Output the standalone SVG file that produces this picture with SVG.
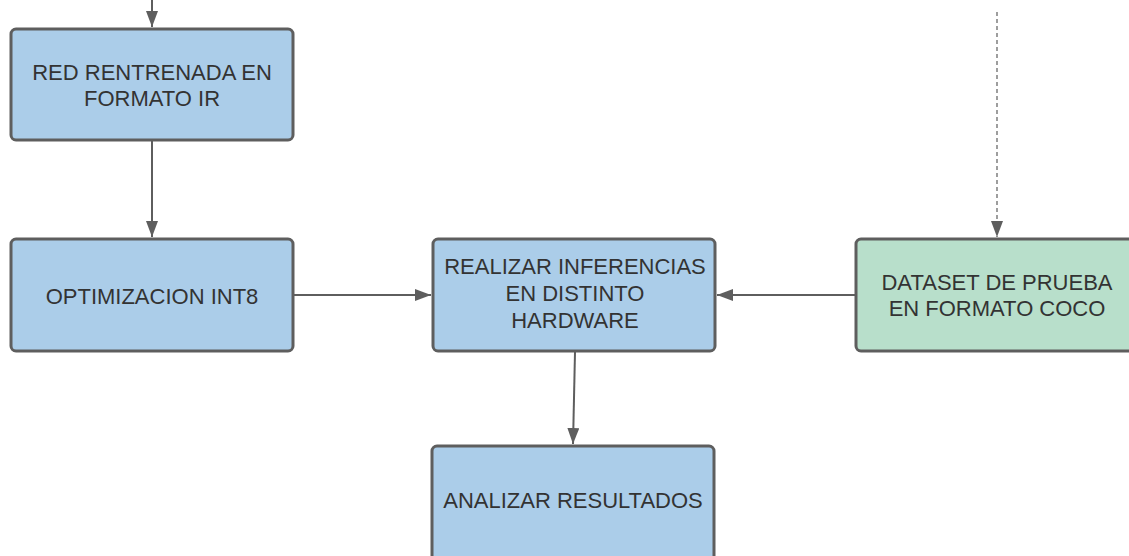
<svg xmlns="http://www.w3.org/2000/svg" width="1129" height="556" viewBox="0 0 1129 556">
<defs>
<style>
.box{stroke:#5e5e5e;stroke-width:3}
.blue{fill:#abcde9}
.green{fill:#b8dfcb}
.lbl{font-family:"Liberation Sans",Arial,sans-serif;font-size:22px;fill:#333333;text-anchor:middle}
.con{stroke:#5e5e5e;stroke-width:2;fill:none}
.dash{stroke-dasharray:4 3;stroke-width:1.2}
</style>
<marker id="ah" viewBox="0 0 16 12" refX="16" refY="6" markerWidth="16" markerHeight="12" markerUnits="userSpaceOnUse" orient="auto">
<path d="M0,0 L16,6 L0,12 Z" fill="#5e5e5e"/>
</marker>
</defs>
<rect width="1129" height="556" fill="#ffffff"/>
<g id="connectors">
<path class="con" d="M152,0 L152,27" marker-end="url(#ah)"/>
<path class="con" d="M152,141 L152,237" marker-end="url(#ah)"/>
<path class="con" d="M294,295 L431,295" marker-end="url(#ah)"/>
<path class="con" d="M855,295 L717,295" marker-end="url(#ah)"/>
<path class="con" d="M575,352 L573,444" marker-end="url(#ah)"/>
<path class="con dash" d="M997,12 L997,237" marker-end="url(#ah)"/>
</g>
<g id="n1">
<rect class="box blue" x="11" y="29" width="282" height="111" rx="5"/>
<text class="lbl" x="152" y="80">RED RENTRENADA EN</text>
<text class="lbl" x="152" y="106">FORMATO IR</text>
</g>
<g id="n2">
<rect class="box blue" x="11" y="239" width="282" height="112" rx="5"/>
<text class="lbl" x="152" y="304">OPTIMIZACION INT8</text>
</g>
<g id="n3">
<rect class="box blue" x="433" y="239" width="282" height="112" rx="5"/>
<text class="lbl" x="575" y="274">REALIZAR INFERENCIAS</text>
<text class="lbl" x="575" y="301">EN DISTINTO</text>
<text class="lbl" x="575" y="328">HARDWARE</text>
</g>
<g id="n4">
<rect class="box green" x="856" y="239" width="290" height="112" rx="5"/>
<text class="lbl" x="997" y="290">DATASET DE PRUEBA</text>
<text class="lbl" x="997" y="316">EN FORMATO COCO</text>
</g>
<g id="n5">
<rect class="box blue" x="432" y="446" width="282" height="120" rx="5"/>
<text class="lbl" x="573" y="508">ANALIZAR RESULTADOS</text>
</g>
</svg>
